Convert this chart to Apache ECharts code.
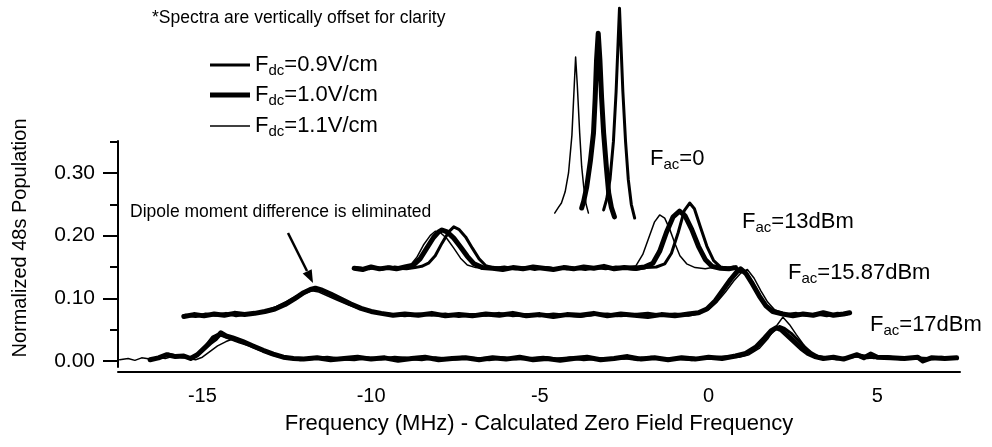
<!DOCTYPE html>
<html><head><meta charset="utf-8">
<script src="https://cdn.jsdelivr.net/npm/echarts@6/dist/echarts.min.js"></script>
<style>html,body{margin:0;padding:0;background:#fff}#c{width:992px;height:447px}</style>
</head><body><div id="c"></div>
<script>
// ---------- data ----------
const xTicks = [-15, -10, -5, 0, 5];
const yTicks = [0, 0.1, 0.2, 0.3];
const yMinorTicks = [0.05, 0.15, 0.25, 0.35];
const fdcNames = ['0.9V/cm', '1.0V/cm', '1.1V/cm'];
const facLabels = ['0', '13dBm', '15.87dBm', '17dBm'];

// Fac = 17dBm (no offset)
const s17_09 = [[-16.5,0.003],[-16.25,0.006],[-16.0,0.011],[-15.75,0.008],[-15.5,0.006],[-15.3,0.005],[-15.1,0.012],[-14.9,0.024],[-14.7,0.038],[-14.55,0.042],[-14.4,0.04],[-14.2,0.036],[-13.9,0.03],[-13.6,0.025],[-13.3,0.018],[-13.0,0.012],[-12.7,0.007],[-12.4,0.005],[-12.1,0.002],[-11.7,0.004],[-11.3,0.006],[-10.9,0.003],[-10.5,0.002],[-10.1,0.005],[-9.7,0.003],[-9.3,0.006],[-8.9,0.004],[-8.5,0.002],[-8.1,0.005],[-7.7,0.003],[-7.3,0.006],[-6.9,0.004],[-6.5,0.002],[-6.1,0.005],[-5.7,0.003],[-5.3,0.004],[-4.9,0.006],[-4.5,0.003],[-4.1,0.005],[-3.7,0.002],[-3.3,0.004],[-2.9,0.003],[-2.5,0.005],[-2.1,0.002],[-1.7,0.006],[-1.3,0.003],[-0.9,0.004],[-0.5,0.002],[-0.1,0.005],[0.3,0.006],[0.7,0.007],[1.0,0.009],[1.3,0.016],[1.55,0.028],[1.8,0.042],[2.0,0.052],[2.1,0.055],[2.25,0.052],[2.45,0.044],[2.65,0.033],[2.85,0.022],[3.05,0.013],[3.25,0.007],[3.5,0.005],[3.8,0.003],[4.2,0.006],[4.5,0.009],[4.9,0.005],[5.3,0.007],[5.7,0.003],[6.1,0.005],[6.5,0.004],[6.9,0.006],[7.3,0.004]];
const s17_10 = [[-16.55,0.002],[-16.3,0.005],[-16.05,0.01],[-15.8,0.007],[-15.55,0.008],[-15.35,0.004],[-15.15,0.01],[-14.95,0.02],[-14.75,0.03],[-14.6,0.036],[-14.45,0.045],[-14.3,0.04],[-14.1,0.037],[-13.8,0.031],[-13.5,0.024],[-13.2,0.017],[-12.9,0.011],[-12.6,0.006],[-12.3,0.004],[-12.0,0.003],[-11.6,0.005],[-11.2,0.002],[-10.8,0.004],[-10.4,0.006],[-10.0,0.003],[-9.6,0.005],[-9.2,0.001],[-8.8,0.004],[-8.4,0.006],[-8.0,0.002],[-7.6,0.004],[-7.2,0.005],[-6.8,0.002],[-6.4,0.005],[-6.0,0.003],[-5.6,0.006],[-5.2,0.002],[-4.8,0.004],[-4.4,0.001],[-4.0,0.004],[-3.6,0.006],[-3.2,0.002],[-2.8,0.004],[-2.4,0.007],[-2.0,0.003],[-1.6,0.005],[-1.2,0.002],[-0.8,0.005],[-0.4,0.003],[0.0,0.006],[0.4,0.004],[0.8,0.008],[1.1,0.012],[1.4,0.022],[1.65,0.036],[1.85,0.048],[2.0,0.053],[2.15,0.05],[2.35,0.04],[2.55,0.03],[2.75,0.02],[2.95,0.012],[3.15,0.007],[3.4,0.004],[3.7,0.006],[4.0,0.003],[4.4,0.01],[4.6,0.005],[4.8,0.011],[5.0,0.006],[5.4,0.005],[5.8,0.004],[6.2,0.006],[6.35,0.0],[6.6,0.005],[7.0,0.004],[7.35,0.005]];
const s17_11 = [[-17.45,0.002],[-17.2,0.004],[-17.0,0.001],[-16.8,0.005],[-16.55,0.003],[-16.3,0.006],[-16.1,0.004],[-15.85,0.008],[-15.6,0.009],[-15.4,0.004],[-15.2,0.002],[-15.0,0.006],[-14.8,0.014],[-14.55,0.024],[-14.3,0.031],[-14.1,0.035],[-13.85,0.032],[-13.6,0.027],[-13.3,0.02],[-13.0,0.013],[-12.7,0.008],[-12.4,0.005],[-12.0,0.004],[-11.5,0.006],[-11.0,0.003],[-10.5,0.005],[-10.0,0.002],[-9.5,0.004],[-9.0,0.006],[-8.5,0.003],[-8.0,0.005],[-7.5,0.002],[-7.0,0.004],[-6.5,0.006],[-6.0,0.003],[-5.5,0.005],[-5.0,0.002],[-4.5,0.004],[-4.0,0.006],[-3.5,0.003],[-3.0,0.005],[-2.5,0.003],[-2.0,0.006],[-1.5,0.004],[-1.0,0.003],[-0.5,0.006],[0.0,0.004],[0.5,0.005],[0.9,0.006],[1.2,0.01],[1.5,0.02],[1.75,0.035],[2.0,0.055],[2.2,0.07],[2.4,0.058],[2.6,0.042],[2.8,0.027],[3.0,0.014],[3.2,0.007],[3.5,0.005],[3.9,0.004],[4.3,0.007],[4.7,0.004],[5.1,0.006],[5.5,0.003],[6.0,0.005],[6.5,0.002],[7.0,0.004],[7.35,0.003]];

// Fac = 15.87dBm (offset for clarity)
const s15_09 = [[-15.5,0.073],[-15.2,0.071],[-14.9,0.075],[-14.6,0.073],[-14.3,0.076],[-14.0,0.072],[-13.7,0.075],[-13.4,0.076],[-13.1,0.08],[-12.8,0.086],[-12.5,0.094],[-12.2,0.103],[-11.95,0.111],[-11.7,0.116],[-11.5,0.113],[-11.25,0.107],[-10.95,0.099],[-10.65,0.091],[-10.35,0.085],[-10.05,0.08],[-9.75,0.076],[-9.4,0.074],[-9.0,0.072],[-8.6,0.075],[-8.2,0.073],[-7.8,0.075],[-7.4,0.071],[-7.0,0.074],[-6.6,0.073],[-6.2,0.076],[-5.8,0.072],[-5.4,0.074],[-5.0,0.072],[-4.6,0.075],[-4.2,0.073],[-3.8,0.071],[-3.4,0.074],[-3.0,0.075],[-2.6,0.072],[-2.2,0.074],[-1.8,0.076],[-1.4,0.073],[-1.0,0.075],[-0.6,0.073],[-0.25,0.077],[0.0,0.085],[0.25,0.1],[0.5,0.118],[0.7,0.133],[0.85,0.142],[1.0,0.145],[1.15,0.138],[1.35,0.12],[1.55,0.1],[1.75,0.085],[2.0,0.077],[2.3,0.074],[2.6,0.076],[2.9,0.073],[3.2,0.075],[3.5,0.072],[3.8,0.076],[4.1,0.075]];
const s15_10 = [[-15.55,0.071],[-15.25,0.074],[-14.95,0.072],[-14.65,0.075],[-14.35,0.073],[-14.05,0.076],[-13.75,0.074],[-13.45,0.076],[-13.15,0.079],[-12.85,0.083],[-12.55,0.09],[-12.25,0.1],[-12.0,0.109],[-11.8,0.114],[-11.65,0.116],[-11.45,0.113],[-11.2,0.107],[-10.9,0.099],[-10.6,0.091],[-10.3,0.084],[-10.0,0.079],[-9.7,0.076],[-9.35,0.073],[-9.0,0.075],[-8.6,0.073],[-8.2,0.076],[-7.8,0.072],[-7.4,0.074],[-7.0,0.072],[-6.6,0.075],[-6.2,0.073],[-5.8,0.076],[-5.4,0.072],[-5.0,0.074],[-4.6,0.071],[-4.2,0.074],[-3.8,0.073],[-3.4,0.076],[-3.0,0.072],[-2.6,0.075],[-2.2,0.073],[-1.8,0.071],[-1.4,0.074],[-1.0,0.072],[-0.6,0.075],[-0.3,0.077],[-0.05,0.083],[0.2,0.096],[0.45,0.115],[0.65,0.13],[0.85,0.143],[0.95,0.147],[1.1,0.14],[1.3,0.123],[1.5,0.104],[1.7,0.088],[1.9,0.079],[2.2,0.075],[2.5,0.072],[2.8,0.075],[3.1,0.073],[3.4,0.077],[3.7,0.073],[4.0,0.075],[4.18,0.077]];
const s15_11 = [[-15.5,0.072],[-15.2,0.075],[-14.9,0.073],[-14.6,0.076],[-14.3,0.072],[-14.0,0.075],[-13.7,0.073],[-13.4,0.077],[-13.1,0.08],[-12.8,0.085],[-12.5,0.092],[-12.2,0.101],[-11.95,0.108],[-11.75,0.112],[-11.55,0.11],[-11.3,0.104],[-11.0,0.097],[-10.7,0.09],[-10.4,0.084],[-10.1,0.079],[-9.8,0.076],[-9.5,0.074],[-9.1,0.075],[-8.7,0.072],[-8.3,0.074],[-7.9,0.071],[-7.5,0.075],[-7.1,0.073],[-6.7,0.076],[-6.3,0.072],[-5.9,0.074],[-5.5,0.071],[-5.1,0.075],[-4.7,0.073],[-4.3,0.072],[-3.9,0.075],[-3.5,0.072],[-3.1,0.074],[-2.7,0.071],[-2.3,0.073],[-1.9,0.075],[-1.5,0.072],[-1.1,0.074],[-0.7,0.073],[-0.3,0.076],[0.0,0.082],[0.25,0.094],[0.5,0.11],[0.75,0.128],[0.95,0.14],[1.15,0.146],[1.35,0.132],[1.55,0.112],[1.75,0.094],[1.95,0.082],[2.2,0.077],[2.5,0.074],[2.8,0.076],[3.1,0.073],[3.4,0.075],[3.7,0.072],[4.0,0.076],[4.15,0.078]];

// Fac = 13dBm (offset for clarity)
const s13_09 = [[-10.45,0.149],[-10.2,0.147],[-9.95,0.149],[-9.7,0.146],[-9.45,0.15],[-9.2,0.148],[-8.95,0.147],[-8.7,0.149],[-8.5,0.151],[-8.3,0.156],[-8.1,0.168],[-7.9,0.188],[-7.7,0.206],[-7.55,0.214],[-7.4,0.21],[-7.2,0.198],[-7.0,0.18],[-6.8,0.163],[-6.6,0.152],[-6.35,0.148],[-6.05,0.15],[-5.75,0.147],[-5.45,0.149],[-5.15,0.146],[-4.85,0.149],[-4.55,0.147],[-4.25,0.15],[-3.95,0.148],[-3.65,0.146],[-3.35,0.149],[-3.05,0.147],[-2.75,0.15],[-2.45,0.148],[-2.15,0.146],[-1.85,0.149],[-1.55,0.15],[-1.3,0.155],[-1.1,0.172],[-0.9,0.205],[-0.72,0.24],[-0.56,0.252],[-0.42,0.243],[-0.25,0.215],[-0.05,0.183],[0.15,0.16],[0.35,0.15],[0.55,0.148],[0.75,0.15]];
const s13_10 = [[-10.5,0.148],[-10.25,0.146],[-10.0,0.15],[-9.75,0.147],[-9.5,0.149],[-9.25,0.147],[-9.0,0.15],[-8.75,0.153],[-8.55,0.163],[-8.35,0.18],[-8.15,0.197],[-8.0,0.206],[-7.9,0.209],[-7.75,0.206],[-7.55,0.196],[-7.35,0.182],[-7.15,0.167],[-6.95,0.155],[-6.7,0.149],[-6.4,0.148],[-6.1,0.146],[-5.8,0.149],[-5.5,0.147],[-5.2,0.15],[-4.9,0.148],[-4.6,0.146],[-4.3,0.149],[-4.0,0.147],[-3.7,0.15],[-3.4,0.148],[-3.1,0.151],[-2.8,0.147],[-2.5,0.149],[-2.2,0.148],[-1.9,0.15],[-1.65,0.156],[-1.45,0.175],[-1.25,0.205],[-1.05,0.23],[-0.86,0.239],[-0.7,0.232],[-0.5,0.21],[-0.3,0.183],[-0.1,0.162],[0.1,0.151],[0.35,0.148],[0.6,0.147],[0.8,0.149]];
const s13_11 = [[-10.55,0.147],[-10.3,0.149],[-10.05,0.146],[-9.8,0.15],[-9.55,0.148],[-9.3,0.151],[-9.05,0.149],[-8.85,0.152],[-8.65,0.165],[-8.45,0.185],[-8.25,0.2],[-8.1,0.207],[-7.95,0.205],[-7.75,0.195],[-7.55,0.18],[-7.35,0.164],[-7.15,0.153],[-6.9,0.149],[-6.6,0.147],[-6.3,0.15],[-6.0,0.148],[-5.7,0.146],[-5.4,0.149],[-5.1,0.147],[-4.8,0.15],[-4.5,0.148],[-4.2,0.146],[-3.9,0.149],[-3.6,0.151],[-3.3,0.147],[-3.0,0.149],[-2.7,0.148],[-2.4,0.15],[-2.15,0.152],[-1.95,0.17],[-1.75,0.2],[-1.6,0.222],[-1.45,0.233],[-1.3,0.228],[-1.15,0.21],[-1.0,0.188],[-0.85,0.168],[-0.65,0.155],[-0.4,0.149],[-0.1,0.147],[0.2,0.15],[0.5,0.148],[0.75,0.149]];

// Fac = 0 (offset for clarity)
const s0_09 = [[-3.11,0.241],[-3.02,0.258],[-2.92,0.29],[-2.82,0.35],[-2.74,0.43],[-2.68,0.51],[-2.64,0.563],[-2.6,0.51],[-2.54,0.43],[-2.46,0.35],[-2.38,0.29],[-2.29,0.25],[-2.19,0.228]];
const s0_10 = [[-3.76,0.244],[-3.7,0.255],[-3.61,0.278],[-3.5,0.32],[-3.41,0.364],[-3.36,0.42],[-3.32,0.48],[-3.27,0.523],[-3.22,0.48],[-3.17,0.42],[-3.11,0.364],[-3.03,0.31],[-2.96,0.268],[-2.88,0.245],[-2.79,0.23]];
const s0_11 = [[-4.56,0.236],[-4.45,0.245],[-4.36,0.252],[-4.25,0.27],[-4.15,0.3],[-4.05,0.36],[-3.98,0.44],[-3.94,0.485],[-3.89,0.44],[-3.82,0.364],[-3.76,0.31],[-3.7,0.278],[-3.63,0.25],[-3.56,0.236]];

const groups = [
  [s0_09, s0_10, s0_11],
  [s13_09, s13_10, s13_11],
  [s15_09, s15_10, s15_11],
  [s17_09, s17_10, s17_11]
];

// ---------- styling ----------
const FONT = '"Liberation Sans", Arial, Helvetica, sans-serif';
const lineWidths = [3, 5, 1.5];
const X_MIN = -17.5, X_MAX = 7.45;
const Y_MIN = -0.0096, Y_MAX = 0.351;

const series = [];
groups.forEach((g) => {
  g.forEach((d, i) => {
    series.push({
      type: 'line', name: fdcNames[i], data: d,
      xAxisIndex: 0, yAxisIndex: 0,
      symbol: 'none', showSymbol: false, clip: false,
      color: '#000',
      itemStyle: { color: '#000' },
      lineStyle: { color: '#000', width: lineWidths[i], join: 'round', cap: 'round' },
      emphasis: { disabled: true }, silent: true
    });
  });
});

const richLegend = {
  f: { fontSize: 22, lineHeight: 26, color: '#000', fontFamily: FONT },
  s: { fontSize: 15, lineHeight: 15, verticalAlign: 'bottom', color: '#000', fontFamily: FONT }
};
const legendTops = [54, 84, 115];
const legends = fdcNames.map((n, i) => ({
  data: [n], left: 210, top: legendTops[i], orient: 'vertical', padding: 0,
  itemWidth: 40, itemHeight: lineWidths[i], icon: 'rect', selectedMode: false,
  itemStyle: { color: '#000', borderWidth: 0 },
  formatter: (name) => '{f|F}{s|dc}{f|=' + name + '}',
  textStyle: { rich: richLegend }
}));

const facPos = [[650, 146], [742, 209], [788, 260], [870, 312]];
const graphics = facLabels.map((t, i) => ({
  type: 'text', x: facPos[i][0], y: facPos[i][1], silent: true,
  style: {
    text: '{f|F}{s|ac}{f|=' + t + '}', align: 'left', verticalAlign: 'top',
    rich: {
      f: { fontSize: 22, lineHeight: 26, fill: '#000', fontFamily: FONT },
      s: { fontSize: 15, lineHeight: 15, verticalAlign: 'bottom', fill: '#000', fontFamily: FONT }
    }
  }
}));
graphics.push(
  { type: 'text', x: 152, y: 9, silent: true,
    style: { text: '*Spectra are vertically offset for clarity', font: '17.5px ' + FONT, fill: '#000', align: 'left', verticalAlign: 'top' } },
  { type: 'text', x: 130, y: 203, silent: true,
    style: { text: 'Dipole moment difference is eliminated', font: '17.5px ' + FONT, fill: '#000', align: 'left', verticalAlign: 'top' } },
  { type: 'text', x: 20, y: 238, rotation: Math.PI / 2, silent: true,
    style: { text: 'Normalized 48s Population', font: '20px ' + FONT, fill: '#000', align: 'center', verticalAlign: 'middle' } },
  { type: 'line', silent: true, shape: { x1: 288, y1: 233, x2: 307, y2: 271 }, style: { stroke: '#000', lineWidth: 2.5 } },
  { type: 'polygon', silent: true, shape: { points: [[302.7, 273.6], [311.7, 269.2], [313, 283]] }, style: { fill: '#000' } }
);

const chart = echarts.init(document.getElementById('c'), null, { renderer: 'canvas' });
chart.setOption({
  animation: false,
  backgroundColor: '#fff',
  textStyle: { fontFamily: FONT, color: '#000' },
  grid: { left: 118, right: 32, top: 141, bottom: 80, containLabel: false },
  legend: legends,
  xAxis: {
    type: 'value', min: X_MIN, max: X_MAX, offset: 5,
    axisLine: { show: true, onZero: false, lineStyle: { color: '#000', width: 2 } },
    axisTick: { show: false },
    splitLine: { show: false },
    axisLabel: { customValues: xTicks, color: '#000', fontSize: 20, margin: 14, fontFamily: FONT },
    name: 'Frequency (MHz) - Calculated Zero Field Frequency',
    nameLocation: 'middle', nameGap: 41,
    nameTextStyle: { color: '#000', fontSize: 22, fontFamily: FONT }
  },
  yAxis: [
    {
      type: 'value', position: 'left', min: Y_MIN, max: Y_MAX,
      axisLine: { show: true, onZero: false, lineStyle: { color: '#000', width: 2 } },
      axisTick: { show: true, customValues: yTicks, length: 15, inside: false, lineStyle: { color: '#000', width: 2 } },
      axisLabel: { customValues: yTicks, formatter: (v) => v.toFixed(2), color: '#000', fontSize: 21, margin: 23, fontFamily: FONT },
      splitLine: { show: false }
    },
    {
      type: 'value', position: 'left', min: Y_MIN, max: Y_MAX,
      axisLine: { show: false, onZero: false },
      axisTick: { show: true, customValues: yMinorTicks, length: 8, inside: false, lineStyle: { color: '#000', width: 2 } },
      axisLabel: { show: false },
      splitLine: { show: false }
    }
  ],
  series: series,
  graphic: graphics
});
</script>
</body></html>
